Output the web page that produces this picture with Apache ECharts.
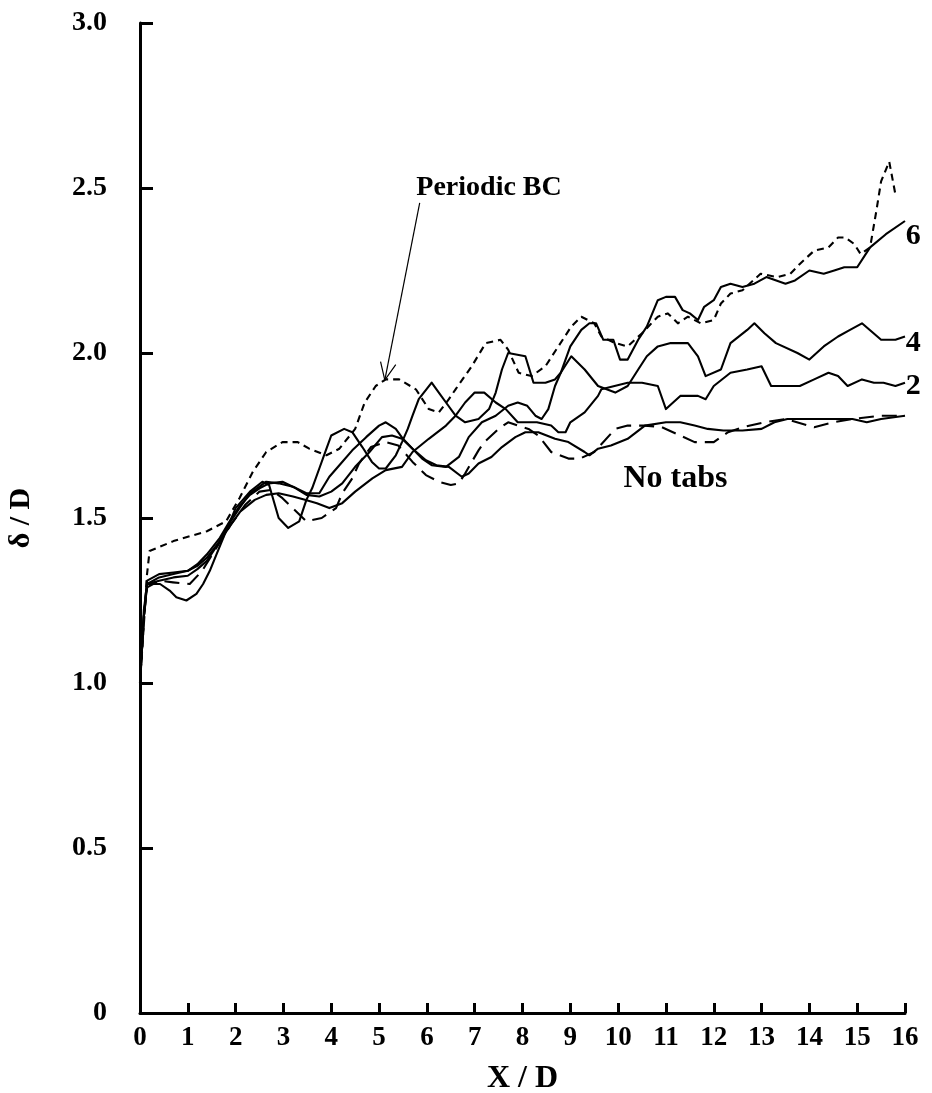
<!DOCTYPE html>
<html>
<head>
<meta charset="utf-8">
<script src="https://cdn.jsdelivr.net/npm/echarts@6/dist/echarts.min.js"></script>
<style>
  html, body { margin: 0; padding: 0; background: #fff; }
  #chart { width: 932px; height: 1093px; }
</style>
</head>
<body>
<div id="chart"></div>
<script>
// Boundary-layer thickness δ/D along the jet, X/D, for several tab counts.
const xTicks = ['0','1','2','3','4','5','6','7','8','9','10','11','12','13','14','15','16'];
const yTicks = ['0','0.5','1.0','1.5','2.0','2.5','3.0'];

// Periodic boundary condition (short dashes)
const periodicBC = [[0,1.0],[0.1,1.22],[0.14,1.32],[0.2,1.40],[0.7,1.43],[1.4,1.46],[1.8,1.49],[2.08,1.56],[2.36,1.64],[2.64,1.70],[2.98,1.73],[3.3,1.73],[3.54,1.71],[3.9,1.69],[4.17,1.71],[4.5,1.77],[4.7,1.85],[4.93,1.90],[5.14,1.92],[5.42,1.92],[5.77,1.89],[6.04,1.83],[6.25,1.82],[6.46,1.86],[6.6,1.89],[6.94,1.96],[7.23,2.03],[7.54,2.04],[7.7,2.01],[7.92,1.94],[8.19,1.93],[8.48,1.96],[8.75,2.02],[9.02,2.08],[9.23,2.11],[9.5,2.09],[9.65,2.05],[9.94,2.03],[10.2,2.02],[10.5,2.06],[10.83,2.11],[11.04,2.12],[11.25,2.09],[11.46,2.11],[11.73,2.09],[12.0,2.10],[12.15,2.15],[12.35,2.18],[12.6,2.19],[12.98,2.24],[13.33,2.23],[13.6,2.24],[13.8,2.27],[14.1,2.31],[14.4,2.32],[14.6,2.35],[14.75,2.35],[14.94,2.33],[15.07,2.30],[15.27,2.32],[15.4,2.43],[15.5,2.52],[15.67,2.58],[15.8,2.48]];

// Six tabs (solid)
const tabs6 = [[0,1.0],[0.08,1.22],[0.15,1.30],[0.42,1.30],[0.62,1.28],[0.76,1.26],[0.97,1.25],[1.18,1.27],[1.32,1.30],[1.46,1.34],[1.6,1.39],[1.8,1.46],[2.0,1.53],[2.3,1.58],[2.56,1.61],[2.7,1.60],[2.9,1.50],[3.1,1.47],[3.33,1.49],[3.48,1.555],[3.6,1.59],[3.75,1.65],[3.9,1.71],[4.0,1.75],[4.27,1.77],[4.44,1.76],[4.65,1.715],[4.85,1.67],[5.0,1.65],[5.14,1.65],[5.35,1.69],[5.48,1.73],[5.6,1.77],[5.7,1.81],[5.83,1.86],[6.1,1.91],[6.25,1.88],[6.4,1.85],[6.6,1.81],[6.8,1.79],[7.08,1.80],[7.3,1.83],[7.44,1.88],[7.57,1.95],[7.7,2.00],[8.06,1.99],[8.23,1.91],[8.48,1.91],[8.68,1.92],[8.8,1.94],[9.0,2.02],[9.23,2.07],[9.4,2.09],[9.54,2.09],[9.69,2.04],[9.9,2.04],[10.04,1.98],[10.2,1.98],[10.42,2.04],[10.6,2.08],[10.83,2.16],[11.0,2.17],[11.19,2.17],[11.35,2.13],[11.5,2.12],[11.67,2.10],[11.8,2.14],[12.0,2.16],[12.15,2.20],[12.35,2.21],[12.6,2.20],[12.85,2.21],[13.1,2.23],[13.5,2.21],[13.7,2.22],[14.0,2.25],[14.3,2.24],[14.52,2.25],[14.73,2.26],[15.0,2.26],[15.27,2.32],[15.6,2.36],[16,2.40]];

// Four tabs (solid)
const tabs4 = [[0,1.0],[0.08,1.2],[0.15,1.30],[0.4,1.32],[0.7,1.33],[1.0,1.34],[1.2,1.355],[1.4,1.38],[1.67,1.43],[1.875,1.485],[2.08,1.53],[2.3,1.575],[2.5,1.595],[2.64,1.61],[2.9,1.605],[3.2,1.595],[3.48,1.575],[3.75,1.575],[3.96,1.625],[4.17,1.66],[4.44,1.705],[4.73,1.745],[5.0,1.78],[5.14,1.79],[5.35,1.77],[5.5,1.74],[5.7,1.71],[5.9,1.68],[6.1,1.66],[6.4,1.655],[6.67,1.685],[6.875,1.745],[7.15,1.79],[7.44,1.81],[7.7,1.84],[7.9,1.85],[8.1,1.84],[8.27,1.81],[8.4,1.80],[8.54,1.83],[8.68,1.90],[8.8,1.94],[9.02,1.99],[9.3,1.95],[9.58,1.90],[9.94,1.88],[10.2,1.90],[10.42,1.95],[10.6,1.99],[10.83,2.02],[11.1,2.03],[11.46,2.03],[11.67,1.99],[11.83,1.93],[12.15,1.95],[12.35,2.03],[12.7,2.07],[12.85,2.09],[13.06,2.06],[13.3,2.03],[13.75,2.00],[14.0,1.98],[14.3,2.02],[14.6,2.05],[14.85,2.07],[15.1,2.09],[15.5,2.04],[15.8,2.04],[16,2.05]];

// Two tabs (solid)
const tabs2 = [[0,1.0],[0.08,1.2],[0.15,1.30],[0.4,1.31],[0.7,1.32],[1.0,1.325],[1.2,1.345],[1.4,1.37],[1.67,1.43],[1.9,1.48],[2.1,1.52],[2.4,1.555],[2.64,1.57],[2.9,1.575],[3.2,1.565],[3.45,1.555],[3.7,1.545],[3.96,1.53],[4.23,1.545],[4.5,1.58],[4.86,1.62],[5.14,1.645],[5.48,1.655],[5.7,1.70],[6.04,1.74],[6.4,1.78],[6.6,1.81],[6.8,1.85],[7.0,1.88],[7.2,1.88],[7.44,1.85],[7.65,1.83],[7.9,1.79],[8.3,1.79],[8.6,1.78],[8.75,1.76],[8.9,1.76],[9.0,1.79],[9.3,1.82],[9.58,1.87],[9.65,1.89],[10.2,1.91],[10.5,1.91],[10.83,1.90],[11.0,1.83],[11.3,1.87],[11.67,1.87],[11.83,1.86],[12.0,1.90],[12.35,1.94],[12.7,1.95],[13.0,1.96],[13.2,1.90],[13.4,1.90],[13.6,1.90],[13.8,1.90],[14.1,1.92],[14.4,1.94],[14.6,1.93],[14.8,1.90],[15.1,1.92],[15.35,1.91],[15.55,1.91],[15.8,1.90],[16,1.91]];

// No tabs (solid)
const noTabs = [[0,1.0],[0.08,1.2],[0.15,1.31],[0.4,1.33],[0.7,1.335],[1.0,1.34],[1.2,1.36],[1.4,1.39],[1.67,1.44],[1.875,1.49],[2.08,1.535],[2.3,1.57],[2.5,1.59],[2.7,1.605],[2.98,1.61],[3.26,1.59],[3.48,1.57],[3.75,1.565],[4.0,1.58],[4.23,1.605],[4.5,1.655],[4.8,1.70],[5.06,1.745],[5.27,1.75],[5.48,1.74],[5.7,1.71],[5.98,1.675],[6.2,1.66],[6.46,1.655],[6.73,1.625],[6.875,1.635],[7.08,1.665],[7.35,1.685],[7.57,1.715],[7.85,1.745],[8.06,1.76],[8.33,1.76],[8.68,1.74],[8.96,1.73],[9.3,1.70],[9.4,1.69],[9.58,1.71],[9.85,1.72],[10.2,1.74],[10.56,1.78],[11.0,1.79],[11.3,1.79],[11.6,1.78],[11.875,1.77],[12.2,1.765],[12.6,1.765],[13.0,1.77],[13.27,1.79],[13.54,1.80],[13.9,1.80],[14.4,1.80],[14.9,1.80],[15.2,1.79],[15.5,1.80],[16,1.81]];

// No tabs, second run (long dashes)
const noTabsDashed = [[0,1.0],[0.08,1.2],[0.15,1.29],[0.4,1.31],[0.69,1.305],[1.04,1.30],[1.3,1.34],[1.6,1.41],[1.9,1.48],[2.2,1.54],[2.5,1.58],[2.75,1.585],[2.98,1.56],[3.23,1.525],[3.48,1.49],[3.8,1.50],[4.1,1.53],[4.23,1.575],[4.44,1.62],[4.58,1.665],[4.83,1.715],[5.14,1.73],[5.4,1.72],[5.7,1.67],[5.98,1.63],[6.25,1.61],[6.5,1.60],[6.67,1.605],[6.8,1.635],[7.08,1.705],[7.2,1.73],[7.5,1.77],[7.7,1.79],[7.9,1.78],[8.125,1.77],[8.33,1.75],[8.6,1.70],[8.96,1.68],[9.2,1.68],[9.5,1.70],[9.94,1.77],[10.2,1.78],[10.56,1.78],[10.9,1.776],[11.3,1.75],[11.6,1.73],[12.0,1.73],[12.3,1.76],[12.6,1.775],[13.06,1.79],[13.5,1.80],[14.1,1.775],[14.5,1.79],[14.9,1.80],[15.5,1.81],[16,1.81]];

// Text annotations, anchored in data coordinates
const notes = [
  { text: 'Periodic BC', at: [7.3, 2.50], size: 28 },
  { text: 'No tabs',     at: [11.2, 1.62], size: 32 },
  { text: '6',           at: [16.17, 2.355], size: 30 },
  { text: '4',           at: [16.17, 2.03], size: 30 },
  { text: '2',           at: [16.17, 1.90], size: 30 }
];
// Arrow from the "Periodic BC" label down to its curve
const arrowFrom = [5.85, 2.455];
const arrowTo = [5.12, 1.918];

const FONT = '"Liberation Serif", "Times New Roman", serif';
const black = '#000';

function lineSeries(name, data, dash) {
  return {
    name: name,
    type: 'line',
    data: data,
    showSymbol: false,
    symbol: 'none',
    silent: true,
    animation: false,
    lineStyle: { color: black, width: 2.1, type: dash || 'solid', cap: 'butt', join: 'round' }
  };
}

const chart = echarts.init(document.getElementById('chart'), null, { renderer: 'canvas' });

chart.setOption({
  backgroundColor: '#fff',
  animation: false,
  grid: { left: 140, right: 27, top: 23, bottom: 80, containLabel: false, outerBoundsMode: 'none' },
  xAxis: {
    type: 'value', min: 0, max: 16, interval: 1,
    axisLine: { show: true, lineStyle: { color: black, width: 3 } },
    axisTick: { show: true, inside: true, length: 10, lineStyle: { color: black, width: 3 } },
    splitLine: { show: false },
    axisLabel: {
      color: black, fontFamily: FONT, fontWeight: 'bold', fontSize: 27, margin: 12,
      formatter: function (v, i) { return xTicks[i]; }
    },
    name: 'X / D', nameLocation: 'middle', nameGap: 50,
    nameTextStyle: { color: black, fontFamily: FONT, fontWeight: 'bold', fontSize: 32 }
  },
  yAxis: {
    type: 'value', min: 0, max: 3, interval: 0.5,
    axisLine: { show: true, lineStyle: { color: black, width: 3 } },
    axisTick: { show: true, inside: true, length: 13, lineStyle: { color: black, width: 3 } },
    splitLine: { show: false },
    axisLabel: {
      color: black, fontFamily: FONT, fontWeight: 'bold', fontSize: 28, margin: 33,
      formatter: function (v, i) { return yTicks[i]; }
    },
    name: 'δ / D', nameLocation: 'middle', nameGap: 104, nameRotate: 90,
    nameTextStyle: { color: black, fontFamily: FONT, fontWeight: 'bold', fontSize: 30 }
  },
  series: [
    lineSeries('Periodic BC', periodicBC, [7, 5]),
    lineSeries('No tabs (dashed)', noTabsDashed, [15, 8]),
    lineSeries('No tabs', noTabs),
    lineSeries('2', tabs2),
    lineSeries('4', tabs4),
    lineSeries('6', tabs6)
  ]
});

// Place annotation text and the arrow using the chart's own coordinate mapping
const toPx = function (p) { return chart.convertToPixel({ gridIndex: 0 }, p); };
const graphics = notes.map(function (n) {
  const p = toPx(n.at);
  return {
    type: 'text', x: p[0], y: p[1], silent: true,
    style: {
      text: n.text, fill: black, font: 'bold ' + n.size + 'px ' + FONT,
      textAlign: 'center', textVerticalAlign: 'middle'
    }
  };
});
const a0 = toPx(arrowFrom), a1 = toPx(arrowTo);
const ang = Math.atan2(a1[1] - a0[1], a1[0] - a0[0]);
const headLen = 19, spread = 0.42;
const h1 = [a1[0] - headLen * Math.cos(ang - spread), a1[1] - headLen * Math.sin(ang - spread)];
const h2 = [a1[0] - headLen * Math.cos(ang + spread), a1[1] - headLen * Math.sin(ang + spread)];
graphics.push({
  type: 'line', silent: true,
  shape: { x1: a0[0], y1: a0[1], x2: a1[0], y2: a1[1] },
  style: { stroke: black, lineWidth: 1.2 }
});
graphics.push({
  type: 'polyline', silent: true,
  shape: { points: [h1, a1, h2] },
  style: { stroke: black, lineWidth: 1.2, fill: null }
});
chart.setOption({ graphic: graphics });
</script>
</body>
</html>
